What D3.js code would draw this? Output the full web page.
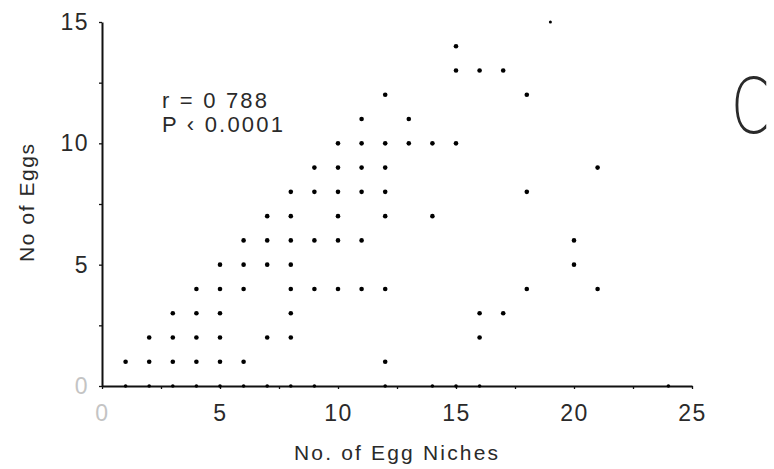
<!DOCTYPE html>
<html><head><meta charset="utf-8">
<script src="https://cdn.jsdelivr.net/npm/d3@7"></script>
<style>body{margin:0;background:#fff}svg{display:block}</style>
</head><body><svg id="c" width="774" height="469"></svg>
<script>
// Data: each point = (niches[i], eggs[i])
const niches = [
  1,2,3,4,5,6,7,8,9,12,14,15,16,24,
  1,2,3,4,5,6,12,
  2,3,4,5,7,8,16,
  3,4,5,8,16,17,
  4,5,6,8,9,10,11,12,18,21,
  5,6,7,8,20,
  6,7,8,9,10,11,20,
  7,8,10,12,14,
  8,9,10,11,12,18,
  9,10,11,12,21,
  10,11,12,13,14,15,
  11,13,
  12,18,
  15,16,17,
  15,
  19
];
const eggs = [
  0,0,0,0,0,0,0,0,0,0,0,0,0,0,
  1,1,1,1,1,1,1,
  2,2,2,2,2,2,2,
  3,3,3,3,3,3,
  4,4,4,4,4,4,4,4,4,4,
  5,5,5,5,5,
  6,6,6,6,6,6,6,
  7,7,7,7,7,
  8,8,8,8,8,8,
  9,9,9,9,9,
  10,10,10,10,10,10,
  11,11,
  12,12,
  13,13,13,
  14,
  15
];
const xTicks = [0,5,10,15,20,25];
const yTicks = [0,5,10,15];
const xTitle = "No. of Egg Niches";
const yTitle = "No of Eggs";
const statLines = ["r = 0 788", "P \u2039 0.0001"];
const panel = "C";

const svg = d3.select("#c");
const x = d3.scaleLinear().domain([0,25]).range([102,692]);
const y = d3.scaleLinear().domain([0,15]).range([386,22]);
const font = "'Liberation Sans', Arial, sans-serif";
const ink = "#2a2a2a";

const minorX = d3.range(0,25.01,2.5);
const minorY = d3.range(0,15.01,2.5);

const gx = svg.append("g").attr("transform","translate(0,386)")
  .call(d3.axisBottom(x).tickValues(minorX).tickSize(3).tickSizeOuter(0).tickPadding(16)
    .tickFormat(d => xTicks.includes(d) ? d : ""));
const gy = svg.append("g").attr("transform","translate(102,0)")
  .call(d3.axisLeft(y).tickValues(minorY).tickSize(3).tickSizeOuter(0).tickPadding(10)
    .tickFormat(d => yTicks.includes(d) ? d : ""));
[gx,gy].forEach(g => {
  g.select(".domain").attr("stroke","#111").attr("stroke-width",2);
  g.selectAll(".tick line").attr("stroke","#111").attr("stroke-width",1.3);
  g.selectAll(".tick text").attr("font-family",font).attr("font-size",23)
    .attr("fill", d => d===0 ? "#c4c4c4" : ink).attr("letter-spacing","1.5px");
});

const pts = niches.map((n,i) => ({n, e: eggs[i]}));
svg.append("g").selectAll("circle").data(pts).join("circle")
  .attr("cx", d => x(d.n)).attr("cy", d => y(d.e))
  .attr("r", d => d.e === 0 ? 1.8 : (d.e === 15 ? 1.5 : 2.3))
  .attr("fill","#000");

svg.append("text").attr("x",396).attr("y",460).attr("text-anchor","middle")
  .attr("font-family",font).attr("font-size",21).attr("fill",ink)
  .attr("textLength",204).attr("lengthAdjust","spacing").text(xTitle);
svg.append("text").attr("transform","translate(34,203) rotate(-90)").attr("text-anchor","middle")
  .attr("font-family",font).attr("font-size",21).attr("fill",ink)
  .attr("textLength",118).attr("lengthAdjust","spacing").text(yTitle);

svg.append("text").attr("x",162).attr("y",108).attr("font-family",font).attr("font-size",22)
  .attr("fill",ink).attr("textLength",105).attr("lengthAdjust","spacing").text(statLines[0]);
svg.append("text").attr("x",162).attr("y",132).attr("font-family",font).attr("font-size",22)
  .attr("fill",ink).attr("textLength",121).attr("lengthAdjust","spacing").text(statLines[1]);

svg.append("text").attr("transform","translate(731,133) scale(0.72,1)")
  .attr("font-family","'DejaVu Sans', sans-serif")
  .attr("font-weight",200).attr("font-size",76).attr("fill",ink).text(panel);
</script></body></html>
